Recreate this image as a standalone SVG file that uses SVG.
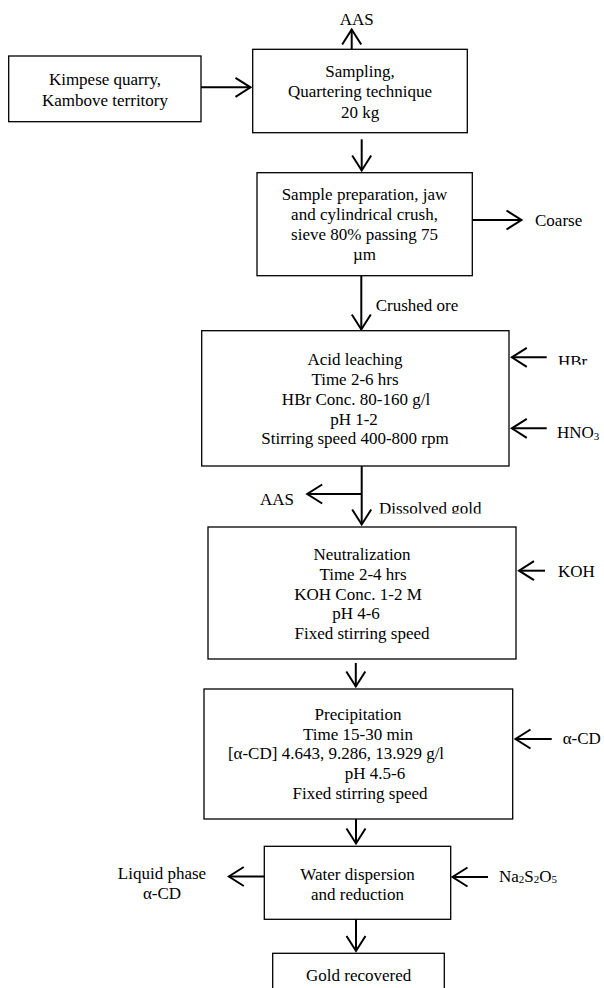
<svg xmlns="http://www.w3.org/2000/svg" width="604" height="988" viewBox="0 0 604 988">
<style>
.box{fill:#fff;stroke:#000;stroke-width:1.3}
.t{font-family:"Liberation Serif","Times New Roman",serif;font-size:17px;fill:#000}
.c{text-anchor:middle}
.ln{fill:none;stroke:#000;stroke-width:2}
.sub{font-size:11px}
</style>
<defs>
<marker id="ah" viewBox="-18 -12 20 24" refX="0" refY="0" markerWidth="20" markerHeight="24" orient="auto" markerUnits="userSpaceOnUse">
<path d="M-15,-9.5 L0,0 L-15,9.5" fill="none" stroke="#000" stroke-width="2"/>
</marker>
<clipPath id="clipHBr"><rect x="540" y="340" width="64" height="24.8"/></clipPath>
<clipPath id="clipDG"><rect x="370" y="495" width="140" height="18.4"/></clipPath>
</defs>
<rect width="604" height="988" fill="#fff"/>
<g id="connectors">
<line class="ln" x1="201" y1="87.3" x2="250.5" y2="87.3" marker-end="url(#ah)"/>
<line class="ln" x1="351.7" y1="49.3" x2="351.7" y2="29.5" marker-end="url(#ah)"/>
<line class="ln" x1="361.7" y1="139.3" x2="361.7" y2="170.5" marker-end="url(#ah)"/>
<line class="ln" x1="472.3" y1="220" x2="521.5" y2="220" marker-end="url(#ah)"/>
<line class="ln" x1="361.3" y1="275.7" x2="361.3" y2="329.5" marker-end="url(#ah)"/>
<line class="ln" x1="546.7" y1="357.3" x2="511.8" y2="357.3" marker-end="url(#ah)"/>
<line class="ln" x1="546.7" y1="428.3" x2="511.8" y2="428.3" marker-end="url(#ah)"/>
<line class="ln" x1="361.7" y1="466" x2="361.7" y2="524.5" marker-end="url(#ah)"/>
<line class="ln" x1="361.7" y1="494" x2="307.2" y2="494" marker-end="url(#ah)"/>
<line class="ln" x1="545" y1="570.7" x2="519" y2="570.7" marker-end="url(#ah)"/>
<line class="ln" x1="355.8" y1="663" x2="355.8" y2="686.5" marker-end="url(#ah)"/>
<line class="ln" x1="551.7" y1="739" x2="515.5" y2="739" marker-end="url(#ah)"/>
<line class="ln" x1="356" y1="819" x2="356" y2="843.5" marker-end="url(#ah)"/>
<line class="ln" x1="264.3" y1="876.5" x2="228.8" y2="876.5" marker-end="url(#ah)"/>
<line class="ln" x1="488" y1="877" x2="452.5" y2="877" marker-end="url(#ah)"/>
<line class="ln" x1="356" y1="919.3" x2="356" y2="951" marker-end="url(#ah)"/>
</g>
<g id="kimpese">
<rect class="box" x="8.7" y="56" width="192.3" height="65.7"/>
<text class="t c" x="105" y="85">Kimpese quarry,</text>
<text class="t c" x="105" y="106">Kambove territory</text>
</g>
<g id="sampling">
<rect class="box" x="252.7" y="49.3" width="214.6" height="83.4"/>
<text class="t c" x="360" y="77">Sampling,</text>
<text class="t c" x="360" y="97.3">Quartering technique</text>
<text class="t c" x="360" y="117.5">20 kg</text>
</g>
<g id="aas-top">
<text class="t c" x="356.7" y="25">AAS</text>
</g>
<g id="prep">
<rect class="box" x="257" y="172.7" width="215.3" height="103"/>
<text class="t c" x="364.5" y="200">Sample preparation, jaw</text>
<text class="t c" x="364.5" y="220">and cylindrical crush,</text>
<text class="t c" x="364.5" y="240">sieve 80% passing 75</text>
<text class="t c" x="364.5" y="259.5">µm</text>
</g>
<g id="coarse">
<text class="t" x="535" y="225.5">Coarse</text>
</g>
<g id="crushed-ore">
<text class="t" x="375.7" y="311">Crushed ore</text>
</g>
<g id="acid">
<rect class="box" x="201.7" y="330.7" width="307.3" height="135.3"/>
<text class="t c" x="355" y="365">Acid leaching</text>
<text class="t c" x="355" y="385">Time 2-6 hrs</text>
<text class="t c" x="356" y="405">HBr Conc. 80-160 g/l</text>
<text class="t c" x="354" y="424.5">pH 1-2</text>
<text class="t c" x="355" y="444">Stirring speed 400-800 rpm</text>
</g>
<g id="hbr">
<text class="t" x="558" y="366.5" clip-path="url(#clipHBr)">HBr</text>
</g>
<g id="hno3">
<text class="t" x="557" y="437.5">HNO<tspan class="sub" dy="2">3</tspan></text>
</g>
<g id="aas-mid">
<text class="t" x="260" y="504.5">AAS</text>
</g>
<g id="dissolved-gold">
<text class="t" x="379" y="514" clip-path="url(#clipDG)">Dissolved gold</text>
</g>
<g id="neutralization">
<rect class="box" x="208" y="527" width="308" height="132"/>
<text class="t c" x="362" y="560">Neutralization</text>
<text class="t c" x="363" y="580">Time 2-4 hrs</text>
<text class="t c" x="358" y="599.5">KOH Conc. 1-2 M</text>
<text class="t c" x="356" y="619">pH 4-6</text>
<text class="t c" x="362" y="639">Fixed stirring speed</text>
</g>
<g id="koh">
<text class="t" x="558" y="577">KOH</text>
</g>
<g id="precipitation">
<rect class="box" x="204" y="689" width="308.7" height="130"/>
<text class="t c" x="358" y="719.5">Precipitation</text>
<text class="t c" x="358" y="739.5">Time 15-30 min</text>
<text class="t c" x="336" y="759">[α-CD] 4.643, 9.286, 13.929 g/l</text>
<text class="t c" x="375" y="778.5">pH 4.5-6</text>
<text class="t c" x="360" y="798.5">Fixed stirring speed</text>
</g>
<g id="acd">
<text class="t" x="562.7" y="744">α-CD</text>
</g>
<g id="water">
<rect class="box" x="264.3" y="846.3" width="186.4" height="73"/>
<text class="t c" x="357.5" y="879.5">Water dispersion</text>
<text class="t c" x="357.5" y="899.5">and reduction</text>
</g>
<g id="liquid">
<text class="t c" x="162" y="879">Liquid phase</text>
<text class="t c" x="162" y="899">α-CD</text>
</g>
<g id="na2s2o5">
<text class="t" x="499" y="882">Na<tspan class="sub" dy="1">2</tspan><tspan dy="-1">S</tspan><tspan class="sub" dy="1">2</tspan><tspan dy="-1">O</tspan><tspan class="sub" dy="1">5</tspan></text>
</g>
<g id="gold">
<rect class="box" x="272.7" y="953.3" width="171.6" height="45"/>
<text class="t c" x="358.7" y="980.5">Gold recovered</text>
</g>
</svg>
